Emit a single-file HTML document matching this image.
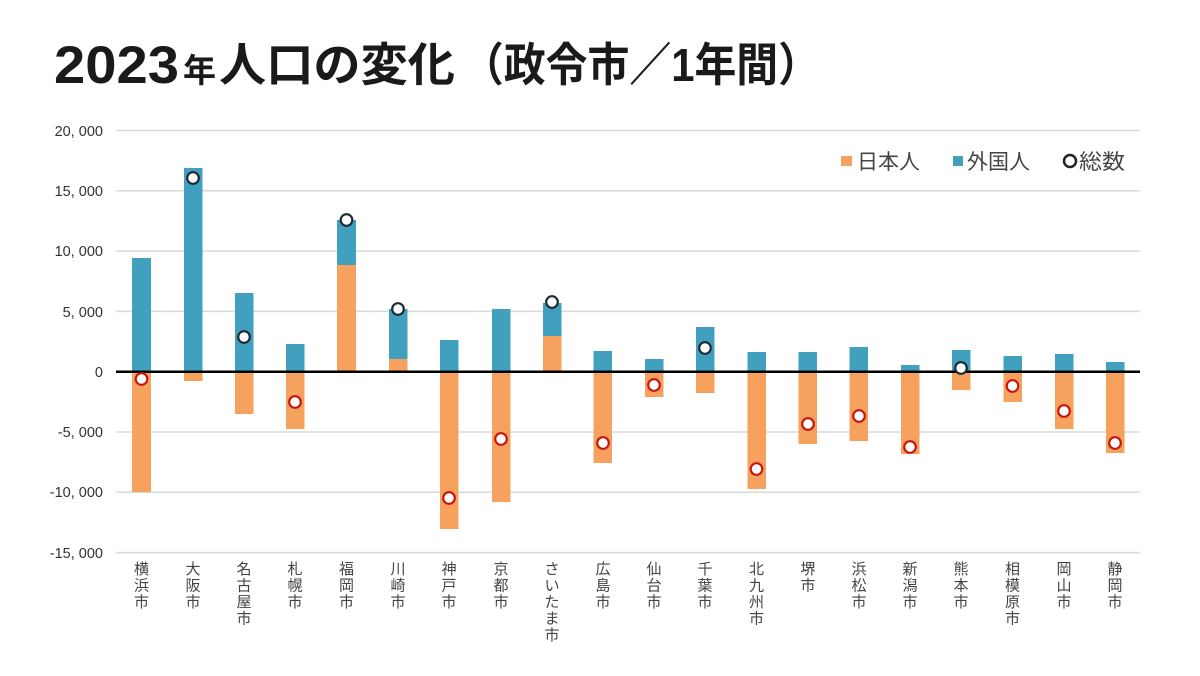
<!DOCTYPE html>
<html><head><meta charset="utf-8"><style>
html,body{margin:0;padding:0;background:#fff;}
svg{display:block;}
</style></head><body>
<svg width="1200" height="676" viewBox="0 0 1200 676" xmlns="http://www.w3.org/2000/svg">
<rect width="1200" height="676" fill="#fff"/>
<!-- Title -->
<g fill="#1a1a1a" font-weight="bold">
<text x="54" y="83" font-family="Liberation Sans, sans-serif" font-size="53" textLength="125" lengthAdjust="spacingAndGlyphs">2023</text>
<text x="183" y="82" font-family="Liberation Sans, 'Noto Sans CJK JP', sans-serif" font-size="33">年</text>
<text x="219" y="81" font-family="Liberation Sans, 'Noto Sans CJK JP', sans-serif" font-size="46" textLength="236" lengthAdjust="spacingAndGlyphs">人口の変化</text>
<text x="462" y="81" font-family="Liberation Sans, 'Noto Sans CJK JP', sans-serif" font-size="46" textLength="358" lengthAdjust="spacingAndGlyphs">（政令市／1年間）</text>
</g>
<!-- gridlines -->
<g stroke="#d9d9d9" stroke-width="1.5">
<line x1="116" y1="130.5" x2="1140" y2="130.5"/>
<line x1="116" y1="190.8" x2="1140" y2="190.8"/>
<line x1="116" y1="251.1" x2="1140" y2="251.1"/>
<line x1="116" y1="311.4" x2="1140" y2="311.4"/>
<line x1="116" y1="432" x2="1140" y2="432"/>
<line x1="116" y1="492.3" x2="1140" y2="492.3"/>
<line x1="116" y1="552.6" x2="1140" y2="552.6"/>
</g>
<!-- y labels -->
<g font-family="Liberation Sans, sans-serif" font-size="14.5" fill="#333" text-anchor="end">
<text x="103" y="136">20, 000</text>
<text x="103" y="196">15, 000</text>
<text x="103" y="256">10, 000</text>
<text x="103" y="317">5, 000</text>
<text x="103" y="377">0</text>
<text x="103" y="437">-5, 000</text>
<text x="103" y="497">-10, 000</text>
<text x="103" y="558">-15, 000</text>
</g>
<!-- bars -->
<g>
<rect x="132" y="258" width="19" height="114" fill="#42a0bf"/>
<rect x="132" y="372" width="19" height="120" fill="#f6a25e"/>
<rect x="184" y="168" width="18.5" height="204" fill="#42a0bf"/>
<rect x="184" y="372" width="18.5" height="9" fill="#f6a25e"/>
<rect x="235" y="293" width="18.5" height="79" fill="#42a0bf"/>
<rect x="235" y="372" width="18.5" height="42" fill="#f6a25e"/>
<rect x="286" y="344" width="18.5" height="28" fill="#42a0bf"/>
<rect x="286" y="372" width="18.5" height="57" fill="#f6a25e"/>
<rect x="337" y="220" width="19" height="45" fill="#42a0bf"/>
<rect x="337" y="265" width="19" height="107" fill="#f6a25e"/>
<rect x="389" y="309" width="18.5" height="50" fill="#42a0bf"/>
<rect x="389" y="359" width="18.5" height="13" fill="#f6a25e"/>
<rect x="440" y="340" width="18.5" height="32" fill="#42a0bf"/>
<rect x="440" y="372" width="18.5" height="157" fill="#f6a25e"/>
<rect x="492" y="309" width="18.5" height="63" fill="#42a0bf"/>
<rect x="492" y="372" width="18.5" height="130" fill="#f6a25e"/>
<rect x="543" y="303" width="18.5" height="33" fill="#42a0bf"/>
<rect x="543" y="336" width="18.5" height="36" fill="#f6a25e"/>
<rect x="593.5" y="351" width="18.5" height="21" fill="#42a0bf"/>
<rect x="593.5" y="372" width="18.5" height="91" fill="#f6a25e"/>
<rect x="645" y="359" width="18.5" height="13" fill="#42a0bf"/>
<rect x="645" y="372" width="18.5" height="25" fill="#f6a25e"/>
<rect x="696" y="327" width="18.5" height="45" fill="#42a0bf"/>
<rect x="696" y="372" width="18.5" height="21" fill="#f6a25e"/>
<rect x="747.5" y="352" width="18.5" height="20" fill="#42a0bf"/>
<rect x="747.5" y="372" width="18.5" height="117" fill="#f6a25e"/>
<rect x="798.5" y="352" width="18.5" height="20" fill="#42a0bf"/>
<rect x="798.5" y="372" width="18.5" height="72" fill="#f6a25e"/>
<rect x="849.5" y="347" width="18.5" height="25" fill="#42a0bf"/>
<rect x="849.5" y="372" width="18.5" height="69" fill="#f6a25e"/>
<rect x="901" y="365" width="18.5" height="7" fill="#42a0bf"/>
<rect x="901" y="372" width="18.5" height="82" fill="#f6a25e"/>
<rect x="952" y="350" width="18.5" height="22" fill="#42a0bf"/>
<rect x="952" y="372" width="18.5" height="18" fill="#f6a25e"/>
<rect x="1003.5" y="356" width="18.5" height="16" fill="#42a0bf"/>
<rect x="1003.5" y="372" width="18.5" height="30" fill="#f6a25e"/>
<rect x="1055" y="354" width="18.5" height="18" fill="#42a0bf"/>
<rect x="1055" y="372" width="18.5" height="57" fill="#f6a25e"/>
<rect x="1106" y="362" width="18.5" height="10" fill="#42a0bf"/>
<rect x="1106" y="372" width="18.5" height="81" fill="#f6a25e"/>
</g>
<!-- zero line -->
<line x1="116" y1="371.8" x2="1140" y2="371.8" stroke="#000" stroke-width="2.5"/>
<!-- totals -->
<g fill="#fff" stroke-width="2.2">
<circle cx="141.5" cy="379" r="5.8" stroke="#c8150e"/>
<circle cx="193" cy="178" r="5.8" stroke="#1d2a33"/>
<circle cx="244" cy="337" r="5.8" stroke="#1d2a33"/>
<circle cx="295" cy="402" r="5.8" stroke="#c8150e"/>
<circle cx="346.5" cy="220" r="5.8" stroke="#1d2a33"/>
<circle cx="398" cy="309" r="5.8" stroke="#1d2a33"/>
<circle cx="449" cy="498" r="5.8" stroke="#c8150e"/>
<circle cx="501" cy="439" r="5.8" stroke="#c8150e"/>
<circle cx="552" cy="302" r="5.8" stroke="#1d2a33"/>
<circle cx="603" cy="443" r="5.8" stroke="#c8150e"/>
<circle cx="654" cy="385" r="5.8" stroke="#c8150e"/>
<circle cx="705" cy="348" r="5.8" stroke="#1d2a33"/>
<circle cx="756.5" cy="469" r="5.8" stroke="#c8150e"/>
<circle cx="808" cy="424" r="5.8" stroke="#c8150e"/>
<circle cx="859" cy="416" r="5.8" stroke="#c8150e"/>
<circle cx="910" cy="447" r="5.8" stroke="#c8150e"/>
<circle cx="961" cy="368" r="5.8" stroke="#1d2a33"/>
<circle cx="1012.5" cy="386" r="5.8" stroke="#c8150e"/>
<circle cx="1064" cy="411" r="5.8" stroke="#c8150e"/>
<circle cx="1115" cy="443" r="5.8" stroke="#c8150e"/>
</g>
<!-- legend -->
<g font-family="Liberation Sans, 'Noto Sans CJK JP', sans-serif" font-size="21" fill="#444">
<rect x="841" y="156" width="11" height="10" fill="#f6a25e"/>
<text x="857" y="169">日本人</text>
<rect x="953" y="156" width="10" height="10" fill="#42a0bf"/>
<text x="967" y="169">外国人</text>
<circle cx="1070" cy="161" r="6" fill="none" stroke="#222" stroke-width="2.5"/>
<text x="1079" y="169" textLength="46" lengthAdjust="spacingAndGlyphs">総数</text>
</g>
<!-- x labels -->
<g font-family="Liberation Sans, 'Noto Sans CJK JP', sans-serif" font-size="15" fill="#444" text-anchor="middle">
<text x="141.5" y="574"><tspan x="141.5">横</tspan><tspan x="141.5" dy="16.5">浜</tspan><tspan x="141.5" dy="16.5">市</tspan></text>
<text x="193" y="574"><tspan x="193">大</tspan><tspan x="193" dy="16.5">阪</tspan><tspan x="193" dy="16.5">市</tspan></text>
<text x="244" y="574"><tspan x="244">名</tspan><tspan x="244" dy="16.5">古</tspan><tspan x="244" dy="16.5">屋</tspan><tspan x="244" dy="16.5">市</tspan></text>
<text x="295" y="574"><tspan x="295">札</tspan><tspan x="295" dy="16.5">幌</tspan><tspan x="295" dy="16.5">市</tspan></text>
<text x="346.5" y="574"><tspan x="346.5">福</tspan><tspan x="346.5" dy="16.5">岡</tspan><tspan x="346.5" dy="16.5">市</tspan></text>
<text x="398" y="574"><tspan x="398">川</tspan><tspan x="398" dy="16.5">崎</tspan><tspan x="398" dy="16.5">市</tspan></text>
<text x="449" y="574"><tspan x="449">神</tspan><tspan x="449" dy="16.5">戸</tspan><tspan x="449" dy="16.5">市</tspan></text>
<text x="501" y="574"><tspan x="501">京</tspan><tspan x="501" dy="16.5">都</tspan><tspan x="501" dy="16.5">市</tspan></text>
<text x="552" y="574"><tspan x="552">さ</tspan><tspan x="552" dy="16.5">い</tspan><tspan x="552" dy="16.5">た</tspan><tspan x="552" dy="16.5">ま</tspan><tspan x="552" dy="16.5">市</tspan></text>
<text x="603" y="574"><tspan x="603">広</tspan><tspan x="603" dy="16.5">島</tspan><tspan x="603" dy="16.5">市</tspan></text>
<text x="654" y="574"><tspan x="654">仙</tspan><tspan x="654" dy="16.5">台</tspan><tspan x="654" dy="16.5">市</tspan></text>
<text x="705" y="574"><tspan x="705">千</tspan><tspan x="705" dy="16.5">葉</tspan><tspan x="705" dy="16.5">市</tspan></text>
<text x="756.5" y="574"><tspan x="756.5">北</tspan><tspan x="756.5" dy="16.5">九</tspan><tspan x="756.5" dy="16.5">州</tspan><tspan x="756.5" dy="16.5">市</tspan></text>
<text x="808" y="574"><tspan x="808">堺</tspan><tspan x="808" dy="16.5">市</tspan></text>
<text x="859" y="574"><tspan x="859">浜</tspan><tspan x="859" dy="16.5">松</tspan><tspan x="859" dy="16.5">市</tspan></text>
<text x="910" y="574"><tspan x="910">新</tspan><tspan x="910" dy="16.5">潟</tspan><tspan x="910" dy="16.5">市</tspan></text>
<text x="961" y="574"><tspan x="961">熊</tspan><tspan x="961" dy="16.5">本</tspan><tspan x="961" dy="16.5">市</tspan></text>
<text x="1012.5" y="574"><tspan x="1012.5">相</tspan><tspan x="1012.5" dy="16.5">模</tspan><tspan x="1012.5" dy="16.5">原</tspan><tspan x="1012.5" dy="16.5">市</tspan></text>
<text x="1064" y="574"><tspan x="1064">岡</tspan><tspan x="1064" dy="16.5">山</tspan><tspan x="1064" dy="16.5">市</tspan></text>
<text x="1115" y="574"><tspan x="1115">静</tspan><tspan x="1115" dy="16.5">岡</tspan><tspan x="1115" dy="16.5">市</tspan></text>
</g>
</svg>
</body></html>
